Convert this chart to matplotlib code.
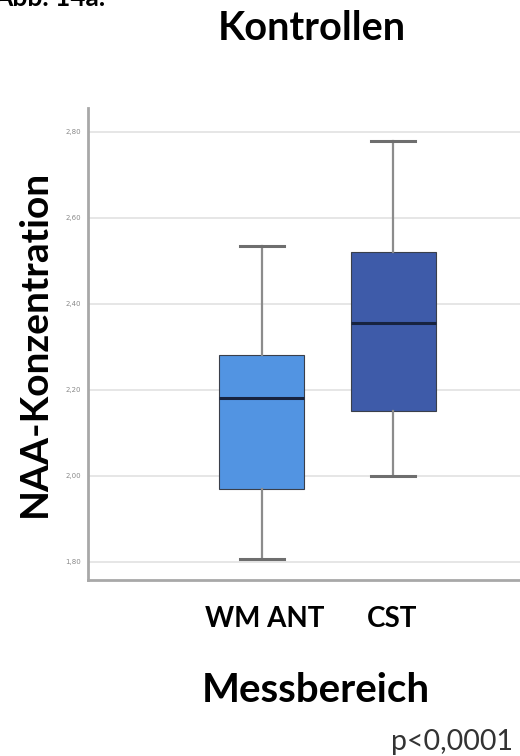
import matplotlib
matplotlib.use('Agg')
import matplotlib.pyplot as plt

plt.rcParams['font.family'] = ['Lato', 'DejaVu Sans']

# Werte
kategorien = ['WM ANT', 'CST']
whisker_unten = [1.806, 1.998]
q1 = [1.969, 2.150]
median = [2.180, 2.354]
q3 = [2.281, 2.520]
whisker_oben = [2.533, 2.778]
farben = ['#5294e2', '#3e5ba9']
yticks = [1.8, 2.0, 2.2, 2.4, 2.6, 2.8]

fig = plt.figure(figsize=(5.2, 7.56), dpi=100)
ax = fig.add_axes([88/520, 1 - 580/756, 1 - 88/520, (580 - 108)/756])

stats = []
for i, k in enumerate(kategorien):
    stats.append({'label': k, 'whislo': whisker_unten[i], 'q1': q1[i], 'med': median[i],
                  'q3': q3[i], 'whishi': whisker_oben[i], 'fliers': []})

bp = ax.bxp(stats, positions=range(len(kategorien)), widths=0.646, patch_artist=True,
            showfliers=False, zorder=3,
            boxprops=dict(edgecolor='#3a3f4a', linewidth=0.8),
            medianprops=dict(color='#17233f', linewidth=2.2),
            whiskerprops=dict(color='#8c8c8c', linewidth=1.6),
            capprops=dict(color='#6e6e6e', linewidth=2.2))
for patch, c in zip(bp['boxes'], farben):
    patch.set_facecolor(c)
for cap in bp['caps']:
    xd = cap.get_xdata()
    m = (xd[0] + xd[1]) / 2
    cap.set_xdata([m - 0.168, m + 0.168])

ax.set_xlim(-1.32, 1.963)
ax.set_ylim(1.757, 2.855)
ax.set_yticks(yticks)
ax.set_yticklabels([f'{v:.2f}'.replace('.', ',') for v in yticks], fontsize=5,
                   color='#8a8a8a', family='DejaVu Sans Condensed')
ax.set_xticks([])
ax.tick_params(axis='y', length=0, pad=5)
ax.grid(axis='y', color='#e2e2e2', linewidth=1.2, zorder=0)
for s in ['top', 'right']:
    ax.spines[s].set_visible(False)
for s in ['left', 'bottom']:
    ax.spines[s].set_color('#a8a8a8')
    ax.spines[s].set_linewidth(2.0)

# Texte
fig.text(-6/520, 1 - 6/756, 'Abb. 14a.', fontsize=19, fontweight='bold', ha='left', va='baseline')
fig.text(312/520, 1 - 28/756, 'Kontrollen', fontsize=28.5, fontweight='bold', ha='center', va='center')
fig.text(34/520, 1 - 343/756, 'NAA-Konzentration', fontsize=28, fontweight='bold',
         rotation=90, ha='center', va='center')
x_pos = [265, 392]
for k, xp in zip(kategorien, x_pos):
    fig.text(xp/520, 1 - 619/756, k, fontsize=20, fontweight='bold', ha='center', va='center')
fig.text(316/520, 1 - 690/756, 'Messbereich', fontsize=29, fontweight='bold', ha='center', va='center')
fig.text(513/520, 1 - 742/756, 'p<0,0001', fontsize=20.5, color='#333333', ha='right', va='center')

fig.savefig('out.png', dpi=100)
